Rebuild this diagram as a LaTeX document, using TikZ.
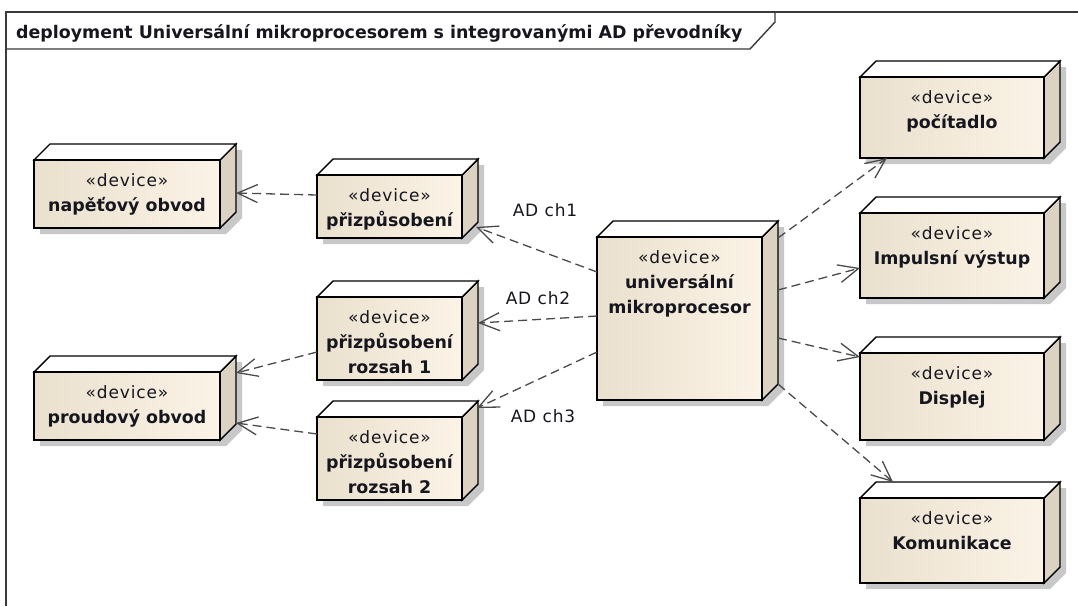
\documentclass[tikz,border=0pt]{standalone}
\usepackage{fontspec}
\usetikzlibrary{calc,arrows.meta}

\newfontfamily\dejavu{DejaVu Sans}
\newfontfamily\dejavuwide{DejaVu Sans}[LetterSpace=5]

\definecolor{faceL}{HTML}{EAE0CE}
\definecolor{faceR}{HTML}{FBF3E6}
\definecolor{sidefill}{HTML}{DCD2C2}
\definecolor{shadowfill}{HTML}{C8C8C8}
\definecolor{txt}{HTML}{16161E}
\definecolor{conn}{HTML}{4A4A4A}
\definecolor{framecol}{HTML}{3A3A3A}

\tikzset{
  boxline/.style={draw=black, line width=1.4pt, line join=miter},
  frontface/.style={draw=black, line width=1.4pt, left color=faceL, right color=faceR,
                    inner sep=0pt, outer sep=0pt},
  stereo/.style={font=\dejavuwide\fontsize{17}{20}\selectfont, text=txt, inner sep=0pt, anchor=base},
  devname/.style={font=\dejavu\bfseries\fontsize{17.4}{20}\selectfont, text=txt, inner sep=0pt, anchor=base},
  edgelabel/.style={font=\dejavuwide\fontsize{17}{20}\selectfont, text=txt, inner sep=0pt},
  titletext/.style={font=\dejavu\bfseries\fontsize{17.4}{20}\selectfont, text=txt, inner sep=0pt},
  dep/.style={draw=conn, line width=1.3pt, dash pattern=on 9pt off 5pt,
              -{Straight Barb[length=20pt, width=18pt, line width=1.3pt]}},
}

% 3D device box: name, front face top-left (x1,y1), bottom-right (x2,y2)
\newcommand\deviceblock[5]{%
  \fill[shadowfill] (#2+6,#3+6) -- (#2+22,#3-10) -- (#4+22,#3-10) -- (#4+22,#5-10)
        -- (#4+6,#5+6) -- (#2+6,#5+6) -- cycle;
  \filldraw[boxline, fill=sidefill] (#4,#3) -- (#4+16,#3-16) -- (#4+16,#5-16) -- (#4,#5) -- cycle;
  \filldraw[boxline, fill=white] (#2,#3) -- (#2+16,#3-16) -- (#4+16,#3-16) -- (#4,#3) -- cycle;
  \node[frontface, minimum width={#4-#2}, minimum height={#5-#3}, anchor=north west] (#1) at (#2,#3) {};
  \node[stereo] (#1-0) at ($(#1.north)+(0,26)$) {«device»};
}
% one line of the device name, numbered from 1
\newcommand\devline[3]{\node[devname] (#1-#2) at ($(#1.north)+(0,{26+25*#2})$) {#3};}

\begin{document}
\begin{tikzpicture}[x=1pt, y=-1pt]
  \useasboundingbox (0,0) rectangle (1078,606);
  \fill[white] (0,0) rectangle (1078,606);

  % diagram frame with its title tab
  \draw[framecol, line width=1.4pt] (6,606) -- (6,12) -- (1078,12);
  \draw[framecol, line width=1.4pt] (6,49) -- (750,49) -- (775,22) -- (775,12);
  \node[titletext, anchor=base west] (title) at (16,38)
    {deployment Universální mikroprocesorem s integrovanými AD převodníky};

  % devices
  \deviceblock{nap}{34}{160}{220}{228}
  \devline{nap}{1}{napěťový obvod}

  \deviceblock{proud}{34}{372}{220}{440}
  \devline{proud}{1}{proudový obvod}

  \deviceblock{prz}{317}{175}{462}{238}
  \devline{prz}{1}{přizpůsobení}

  \deviceblock{roz1}{317}{297}{462}{380}
  \devline{roz1}{1}{přizpůsobení}
  \devline{roz1}{2}{rozsah 1}

  \deviceblock{roz2}{317}{417}{462}{500}
  \devline{roz2}{1}{přizpůsobení}
  \devline{roz2}{2}{rozsah 2}

  \deviceblock{proc}{597}{237}{762}{400}
  \devline{proc}{1}{universální}
  \devline{proc}{2}{mikroprocesor}

  \deviceblock{poc}{860}{77}{1044}{158}
  \devline{poc}{1}{počítadlo}

  \deviceblock{imp}{860}{213}{1044}{298}
  \devline{imp}{1}{Impulsní výstup}

  \deviceblock{disp}{860}{353}{1044}{440}
  \devline{disp}{1}{Displej}

  \deviceblock{kom}{860}{498}{1044}{583}
  \devline{kom}{1}{Komunikace}

  % dependencies
  \draw[dep] ($(prz.north west)+(0,20)$) -- ($(nap.north east)+(16,33)$);
  \draw[dep] ($(roz1.north west)+(0,55)$) -- ($(proud.north east)+(16,1)$);
  \draw[dep] ($(roz2.north west)+(0,17)$) -- ($(proud.north east)+(16,51)$);

  \draw[dep] ($(proc.north west)+(0,35)$) -- ($(prz.south east)+(14,-11)$);
  \draw[dep] ($(proc.north west)+(0,79)$) -- ($(roz1.north east)+(16,26)$);
  \draw[dep] ($(proc.north west)+(0,115)$) -- ($(roz2.north east)+(15,-9)$);

  \draw[dep] ($(proc.north east)+(16,1)$) -- ($(poc.south west)+(27,0)$);
  \draw[dep] ($(proc.north east)+(16,53)$) -- ($(imp.north west)+(0,55)$);
  \draw[dep] ($(proc.north east)+(16,101)$) -- ($(disp.north west)+(0,4)$);
  \draw[dep] ($(proc.south east)+(16,-16)$) -- ($(kom.north west)+(33,-16)$);

  % channel labels
  \node[edgelabel] (ch1) at (545,210) {AD ch1};
  \node[edgelabel] (ch2) at (538,298) {AD ch2};
  \node[edgelabel] (ch3) at (543,416) {AD ch3};
\end{tikzpicture}
\end{document}
